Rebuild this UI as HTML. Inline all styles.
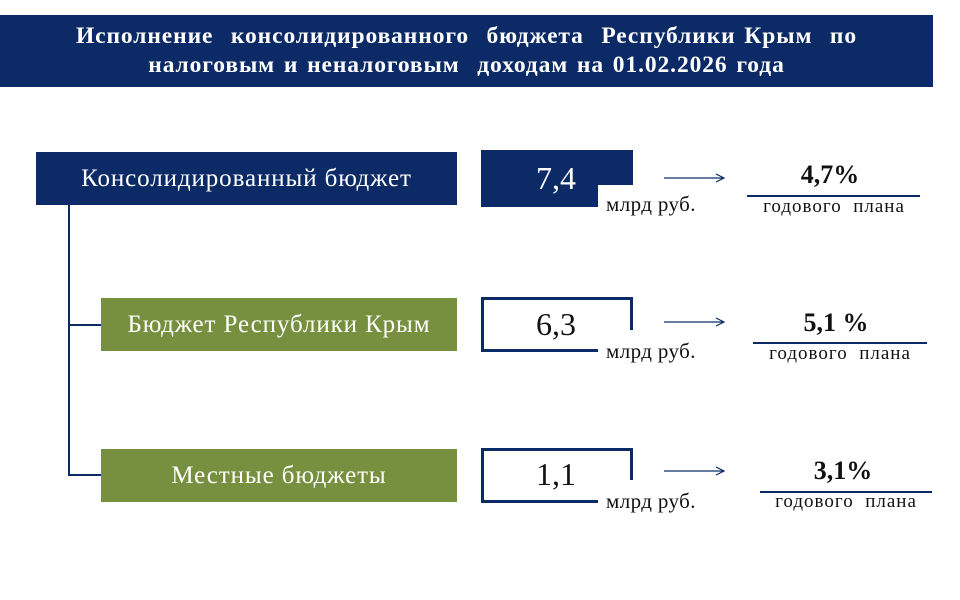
<!DOCTYPE html><html><head><meta charset="utf-8"><style>
body{margin:0;width:960px;height:600px;background:#fff;position:relative;overflow:hidden;font-family:"Liberation Serif",serif}
.a{position:absolute}
.hdr{left:0;top:15px;width:933px;height:72px;background:#0c2a66;color:#fff;font-weight:bold;font-size:23.5px;letter-spacing:0.9px;word-spacing:2px;text-align:center;line-height:29px;padding-top:7px;box-sizing:border-box;white-space:nowrap}
.lb{height:53px;color:#fff;font-size:25px;letter-spacing:0.9px;display:flex;align-items:center;justify-content:center;white-space:nowrap}
.nv{background:#0c2a66}.gr{background:#77903f}
.val{font-size:32px;width:150px;text-align:center}
.un{font-size:21px;letter-spacing:0.4px;color:#111;white-space:nowrap}
.pc{font-weight:bold;font-size:26px;text-align:center;width:174px;color:#111}
.gp{font-size:19px;letter-spacing:1px;text-align:center;width:174px;color:#111;white-space:nowrap}
.ln{height:2px;background:#0c2a66}
</style></head><body>
<div class="a hdr">Исполнение&nbsp; консолидированного&nbsp; бюджета&nbsp; Республики Крым&nbsp; по<br>налоговым и неналоговым&nbsp; доходам на 01.02.2026 года</div>
<div class="a lb nv" style="left:36px;top:152px;width:421px">Консолидированный бюджет</div>
<div class="a lb gr" style="left:101px;top:298px;width:356px">Бюджет Республики Крым</div>
<div class="a lb gr" style="left:101px;top:449px;width:356px">Местные бюджеты</div>
<div class="a" style="left:68px;top:205px;width:2px;height:271px;background:#0c2a66"></div>
<div class="a" style="left:68px;top:324px;width:33px;height:2px;background:#0c2a66"></div>
<div class="a" style="left:68px;top:474px;width:33px;height:2px;background:#0c2a66"></div>

<div class="a nv" style="left:481px;top:150px;width:152px;height:57px"></div>
<div class="a" style="left:598px;top:185px;width:40px;height:25px;background:#fff"></div>
<div class="a val" style="left:481px;top:160px;color:#fff">7,4</div>

<div class="a" style="left:481px;top:297px;width:146px;height:49px;border:3px solid #0c2a66"></div>
<div class="a" style="left:598px;top:330px;width:40px;height:25px;background:#fff"></div>
<div class="a val" style="left:481px;top:306px;color:#111">6,3</div>

<div class="a" style="left:481px;top:448px;width:146px;height:49px;border:3px solid #0c2a66"></div>
<div class="a" style="left:598px;top:480px;width:40px;height:25px;background:#fff"></div>
<div class="a val" style="left:481px;top:456px;color:#111">1,1</div>

<div class="a un" style="left:606px;top:192px">млрд руб.</div>
<div class="a un" style="left:606px;top:339px">млрд руб.</div>
<div class="a un" style="left:606px;top:489px">млрд руб.</div>

<svg class="a" style="left:0;top:0" width="960" height="600"><g stroke="#0c2a66" stroke-width="1.2" fill="none">
<path d="M664 178H724M716 174L724 178L716 182"/><path d="M664 322H724M716 318L724 322L716 326"/><path d="M664 471H724M716 467L724 471L716 475"/></g></svg>

<div class="a pc" style="left:743px;top:160px">4,7%</div>
<div class="a ln" style="left:747px;top:195px;width:173px"></div>
<div class="a gp" style="left:747px;top:196px">годового&nbsp; плана</div>

<div class="a pc" style="left:749px;top:308px">5,1 %</div>
<div class="a ln" style="left:753px;top:342px;width:174px"></div>
<div class="a gp" style="left:753px;top:343px">годового&nbsp; плана</div>

<div class="a pc" style="left:756px;top:456px">3,1%</div>
<div class="a ln" style="left:760px;top:491px;width:172px"></div>
<div class="a gp" style="left:759px;top:491px">годового&nbsp; плана</div>
</body></html>
